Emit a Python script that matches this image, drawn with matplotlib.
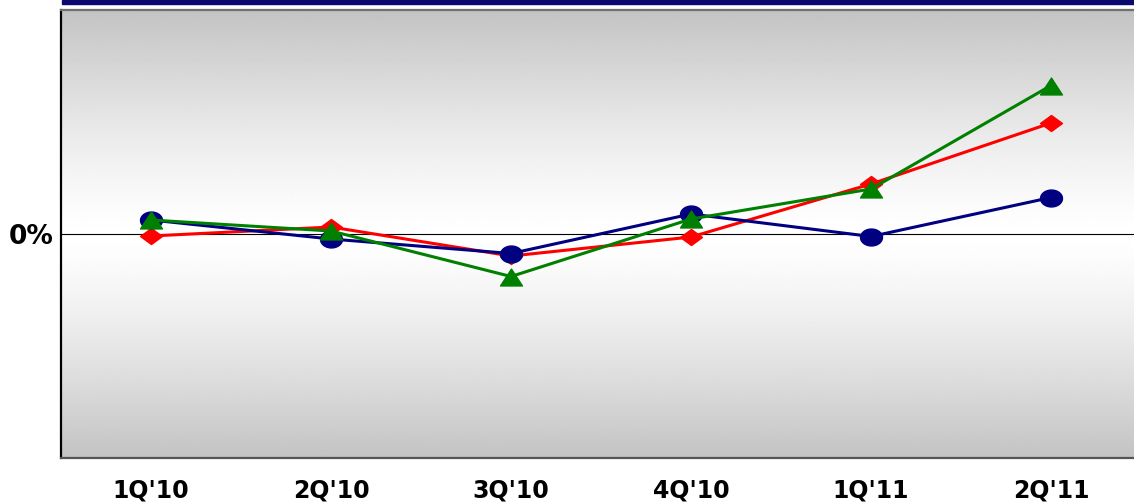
import matplotlib
matplotlib.use('Agg')
import matplotlib.pyplot as plt
import numpy as np
from matplotlib.path import Path

quarters = ["1Q'10", "2Q'10", "3Q'10", "4Q'10", "1Q'11", "2Q'11"]
navy_vals = [1.35, -0.55, -2.0, 1.95, -0.3, 3.6]
red_vals = [-0.25, 0.65, -2.25, -0.35, 4.95, 11.05]
green_vals = [1.35, 0.25, -4.3, 1.45, 4.45, 14.8]


# flattened marker shapes (wider than tall)
def ellipse(ry=0.77, n=60):
    t = np.linspace(0, 2 * np.pi, n)
    return Path(np.column_stack([np.cos(t), ry * np.sin(t)]), closed=True)


diamond = Path([(-1, 0), (0, 0.73), (1, 0), (0, -0.73), (-1, 0)], closed=True)
triangle = Path([(-1, -0.77), (1, -0.77), (0, 0.77), (-1, -0.77)], closed=True)

W, H = 1134, 504
fig = plt.figure(figsize=(W / 100, H / 100), dpi=100)
fig.patch.set_facecolor('white')

# axes runs a bit past the right edge of the figure
ax = fig.add_axes([61 / W, 46 / H, 1080 / W, 448 / H])
ax.set_xlim(-0.5, 5.5)
ax.set_ylim(-22.45, 22.35)

# gray -> white -> gray background
t = np.linspace(-1, 1, 256)
shade = 1 - 0.235 * np.abs(t) ** 1.3
grad = np.repeat(shade[:, None], 2, axis=1)
ax.imshow(grad, cmap='gray', vmin=0, vmax=1, aspect='auto',
          extent=[0, 1, 0, 1], transform=ax.transAxes, zorder=0,
          interpolation='bilinear')

ax.axhline(0, color='black', lw=0.8, zorder=1)

x = np.arange(len(quarters))
ax.plot(x, red_vals, color='#ff0000', lw=2.2, marker=diamond, ms=15.8,
        zorder=3)
ax.plot(x, navy_vals, color='#000080', lw=2.2, marker=ellipse(), ms=15.8,
        zorder=4)
ax.plot(x, green_vals, color='#008000', lw=2.2, marker=triangle, ms=15.8,
        zorder=5)

ax.spines['right'].set_visible(False)
ax.spines['left'].set_color('black')
ax.spines['left'].set_linewidth(1.6)
ax.spines['top'].set_color('#707070')
ax.spines['top'].set_linewidth(1.6)
ax.spines['bottom'].set_color('#555555')
ax.spines['bottom'].set_linewidth(1.6)

ax.set_xticks(x)
ax.set_xticklabels(quarters, fontsize=17, fontweight='bold',
                   family='DejaVu Sans')
ax.tick_params(axis='x', length=0, pad=15)
ax.set_yticks([0])
ax.set_yticklabels(['0%'], fontsize=19, fontweight='bold',
                   family='DejaVu Sans')
ax.tick_params(axis='y', length=0, pad=5)

# navy band along the top
fig.patches.append(plt.Rectangle((62 / W, (H - 3.5) / H), 1, 3.5 / H,
                                 transform=fig.transFigure,
                                 color='#0a0a6e', zorder=10))

fig.savefig('out.png', dpi=100)
